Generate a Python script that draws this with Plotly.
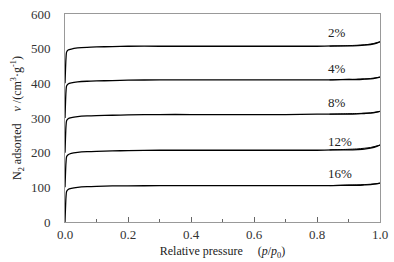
import plotly.graph_objects as go

pressure = [0.0, 0.003, 0.005, 0.01, 0.02, 0.04, 0.07, 0.1, 0.15, 0.2, 0.3, 0.4, 0.5,
            0.6, 0.7, 0.8, 0.85, 0.9, 0.93, 0.95, 0.97, 0.99, 1.0]
ads_2 = [400, 470, 490, 496, 499, 502, 504, 505, 506, 507, 507, 507, 507, 507, 507, 507,
         508, 508, 509, 510, 512, 516, 520]
ads_4 = [300, 375, 392, 398, 401, 404, 406, 407, 408, 409, 410, 410, 410, 410, 410, 410,
         410, 411, 411, 412, 413, 416, 418]
ads_8 = [200, 275, 292, 298, 301, 304, 306, 307, 308, 309, 310, 310, 310, 310, 310, 311,
         311, 311, 312, 313, 314, 317, 319]
ads_12 = [100, 170, 188, 194, 198, 201, 203, 204, 205, 206, 207, 207, 207, 207, 207, 207,
          208, 208, 209, 210, 213, 218, 222]
ads_16 = [0, 70, 88, 94, 97, 100, 102, 103, 104, 104, 105, 105, 105, 105, 105, 105,
          105, 106, 106, 107, 108, 110, 112]

des_pressure = [1.0, 0.97, 0.93, 0.88, 0.84]
des_2 = [520, 513, 510, 508, 507]
des_4 = [418, 414, 412, 411, 410]
des_8 = [319, 315, 313, 312, 311]
des_12 = [222, 215, 211, 209, 208]
des_16 = [112, 109, 107, 106, 105]

labels = ["2%", "4%", "8%", "12%", "16%"]
label_x = [0.865, 0.865, 0.865, 0.873, 0.873]
label_y = [546, 442, 344, 232, 141]

x_ticks = [0.0, 0.2, 0.4, 0.6, 0.8, 1.0]
y_ticks = [0, 100, 200, 300, 400, 500, 600]

fig = go.Figure()
for ads, des in [(ads_2, des_2), (ads_4, des_4), (ads_8, des_8), (ads_12, des_12), (ads_16, des_16)]:
    fig.add_trace(go.Scatter(x=pressure, y=ads, mode="lines",
                             line=dict(color="black", width=1.3, shape="spline", smoothing=0.6),
                             showlegend=False))
    fig.add_trace(go.Scatter(x=des_pressure, y=des, mode="lines",
                             line=dict(color="black", width=1.0, shape="spline", smoothing=0.6),
                             showlegend=False))

serif = "Liberation Serif"
for t, lx, ly in zip(labels, label_x, label_y):
    fig.add_annotation(x=lx, y=ly, text=t, showarrow=False,
                       font=dict(family=serif, size=13, color="#222"))

fig.update_layout(
    width=394, height=262,
    margin=dict(l=65, r=14, t=14, b=40, autoexpand=False),
    paper_bgcolor="white", plot_bgcolor="white",
    font=dict(family=serif, size=13, color="#333"),
    xaxis=dict(range=[0, 1], tickvals=x_ticks, ticktext=["%.1f" % v for v in x_ticks],
               automargin=False,
               ticks="inside", ticklen=5, tickcolor="#666", showgrid=False, zeroline=False,
               showline=True, linecolor="#999", linewidth=1, mirror=True,
               tickfont=dict(family=serif, size=13, color="#333"),
               minor=dict(dtick=0.1, ticks="inside", ticklen=3, tickcolor="#666"),
               title=dict(text="Relative pressure\u00a0\u00a0\u00a0\u00a0\u00a0(<i>p</i>/<i>p</i><sub>0</sub>)",
                          font=dict(family=serif, size=12, color="#222"), standoff=6)),
    yaxis=dict(range=[0, 600], tickvals=y_ticks, ticks="", showgrid=False, zeroline=False,
               automargin=False,
               showline=True, linecolor="#999", linewidth=1, mirror=True,
               ticklabelstandoff=11,
               tickfont=dict(family=serif, size=13, color="#333"),
               title=dict(text="N<sub>2</sub> adsorted\u00a0\u00a0\u00a0\u00a0<i>v</i> /(cm<sup>3</sup>\u00b7g<sup>-1</sup>)",
                          font=dict(family=serif, size=12, color="#222"), standoff=6)),
)
fig.write_html("out.html", config={"displayModeBar": False},
               post_script="document.body.style.margin='0';")
